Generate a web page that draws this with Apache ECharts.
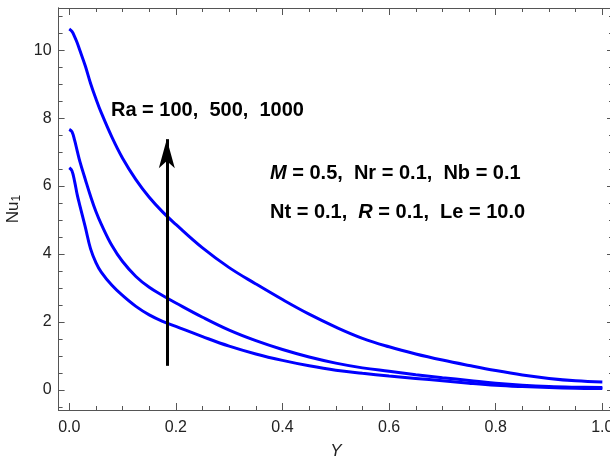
<!DOCTYPE html>
<html><head><meta charset="utf-8">
<script src="https://cdn.jsdelivr.net/npm/echarts@6/dist/echarts.min.js"></script>
<style>html,body{margin:0;padding:0;background:#fff}#c{width:610px;height:464px}</style>
</head><body><div id="c"></div>
<script>
// Position Y (x-axis values)
const yPos = [0, 0.005, 0.01, 0.015, 0.02, 0.03, 0.04, 0.05, 0.06, 0.08, 0.1, 0.125, 0.15, 0.175, 0.2,
  0.25, 0.3, 0.35, 0.4, 0.45, 0.5, 0.55, 0.6, 0.65, 0.7, 0.75, 0.8, 0.85, 0.9, 0.95, 1.0];
// Nu1 for Ra = 100, 500, 1000
const nuRa100 = [6.54, 6.45, 6.14, 5.74, 5.42, 4.8, 4.15, 3.75, 3.47, 3.08, 2.78, 2.46, 2.21, 2.02, 1.87,
  1.57, 1.29, 1.06, 0.87, 0.71, 0.58, 0.49, 0.41, 0.34, 0.27, 0.2, 0.14, 0.1, 0.07, 0.05, 0.04];
const nuRa500 = [7.67, 7.6, 7.35, 7.03, 6.72, 6.2, 5.7, 5.25, 4.88, 4.25, 3.78, 3.34, 3.02, 2.78, 2.56,
  2.14, 1.76, 1.45, 1.19, 0.97, 0.79, 0.65, 0.55, 0.45, 0.36, 0.28, 0.2, 0.14, 0.1, 0.08, 0.07];
const nuRa1000 = [10.62, 10.55, 10.4, 10.21, 9.99, 9.54, 9.02, 8.57, 8.16, 7.44, 6.82, 6.19, 5.67, 5.24, 4.87,
  4.18, 3.6, 3.12, 2.66, 2.23, 1.85, 1.52, 1.27, 1.06, 0.88, 0.72, 0.57, 0.44, 0.34, 0.27, 0.235];
// ticks
const xMajorTicks = [0, 0.2, 0.4, 0.6, 0.8, 1.0];
const xMinorTicks = [0.05, 0.1, 0.15, 0.25, 0.3, 0.35, 0.45, 0.5, 0.55, 0.65, 0.7, 0.75, 0.85, 0.9, 0.95];
const yMajorTicks = [0, 2, 4, 6, 8, 10];
const yMinorTicks = [-0.5, 0.5, 1, 1.5, 2.5, 3, 3.5, 4.5, 5, 5.5, 6.5, 7, 7.5, 8.5, 9, 9.5, 10.5, 11];
const xRange = [-0.02, 1.02];
const yRange = [-0.59, 11.24];
// arrow annotation (data coords)
const arrowX = 0.183, arrowFrom = 0.71, arrowTo = 7.38;

const FONT = 'Liberation Sans';
const AX = '#555';
const series = [nuRa100, nuRa500, nuRa1000].map((vals, i) => ({
  type: 'line', xAxisIndex: 0, yAxisIndex: 0, showSymbol: false, symbol: 'none',
  smooth: 0.4, lineStyle: { color: '#0000ff', width: 3 }, animation: false, silent: true,
  data: yPos.map((x, k) => [x, vals[k]]),
  markLine: i === 0 ? {
    silent: true, animation: false, symbol: ['none', 'arrow'], symbolSize: [12, 29],
    label: { show: false }, lineStyle: { color: '#000', width: 3, type: 'solid' },
    data: [[{ coord: [arrowX, arrowFrom] }, { coord: [arrowX, arrowTo] }]]
  } : undefined
}));

function xAx(pos, ticks, len, labels) {
  return {
    type: 'value', position: pos, min: xRange[0], max: xRange[1],
    axisLine: { show: true, onZero: false, lineStyle: { color: AX, width: 1 } },
    axisTick: { show: true, inside: true, length: len, customValues: ticks, lineStyle: { color: AX } },
    axisLabel: labels ? { show: true, customValues: ticks, margin: 10, color: '#222', fontSize: 16, fontFamily: FONT,
      hideOverlap: false, formatter: v => v.toFixed(1) } : { show: false },
    splitLine: { show: false },
    name: labels ? 'Y' : '', nameLocation: 'middle', nameGap: 33,
    nameTextStyle: { fontStyle: 'italic', fontSize: 17, color: '#222', fontFamily: FONT }
  };
}
function yAx(pos, ticks, len, labels) {
  return {
    type: 'value', position: pos, min: yRange[0], max: yRange[1],
    axisLine: { show: true, onZero: false, lineStyle: { color: AX, width: 1 } },
    axisTick: { show: true, inside: true, length: len, customValues: ticks, lineStyle: { color: AX } },
    axisLabel: labels ? { show: true, customValues: ticks, margin: 7, color: '#222', fontSize: 16, fontFamily: FONT,
      formatter: v => String(v) } : { show: false },
    splitLine: { show: false },
    name: labels ? '{n|Nu}{s|1}' : '', nameLocation: 'middle', nameGap: 33, nameRotate: 90,
    nameTextStyle: { color: '#222', fontFamily: FONT, fontSize: 17,
      rich: { n: { fontSize: 17, fontFamily: FONT, color: '#222' },
              s: { fontSize: 12, fontFamily: FONT, color: '#222', padding: [7, 0, 0, 0] } } }
  };
}

const chart = echarts.init(document.getElementById('c'), null, { renderer: 'canvas' });
chart.setOption({
  animation: false,
  backgroundColor: '#fff',
  grid: { left: 58.6, top: 8, width: 554.4, height: 402, containLabel: false, outerBoundsMode: 'none' },
  xAxis: [xAx('bottom', xMajorTicks, 7, true), xAx('bottom', xMinorTicks, 4, false),
          xAx('top', xMajorTicks, 7, false), xAx('top', xMinorTicks, 4, false)],
  yAxis: [yAx('left', yMajorTicks, 6, true), yAx('left', yMinorTicks, 4, false),
          yAx('right', yMajorTicks, 6, false), yAx('right', yMinorTicks, 4, false)],
  series: series,
  graphic: [
    { type: 'text', x: 111, y: 110, silent: true,
      style: { text: 'Ra = 100,  500,  1000', fontSize: 20, fontWeight: 'bold', fontFamily: FONT, fill: '#000', verticalAlign: 'middle' } },
    { type: 'text', x: 270, y: 173, silent: true,
      style: { text: '{i|M} = 0.5,  Nr = 0.1,  Nb = 0.1', fontSize: 20, fontWeight: 'bold', fontFamily: FONT, fill: '#000', verticalAlign: 'middle',
        rich: { i: { fontStyle: 'italic', fontWeight: 'bold', fontSize: 20, fontFamily: FONT, fill: '#000' } } } },
    { type: 'text', x: 270, y: 212, silent: true,
      style: { text: 'Nt = 0.1,  {i|R} = 0.1,  Le = 10.0', fontSize: 20, fontWeight: 'bold', fontFamily: FONT, fill: '#000', verticalAlign: 'middle',
        rich: { i: { fontStyle: 'italic', fontWeight: 'bold', fontSize: 20, fontFamily: FONT, fill: '#000' } } } }
  ]
});
</script>
</body></html>
